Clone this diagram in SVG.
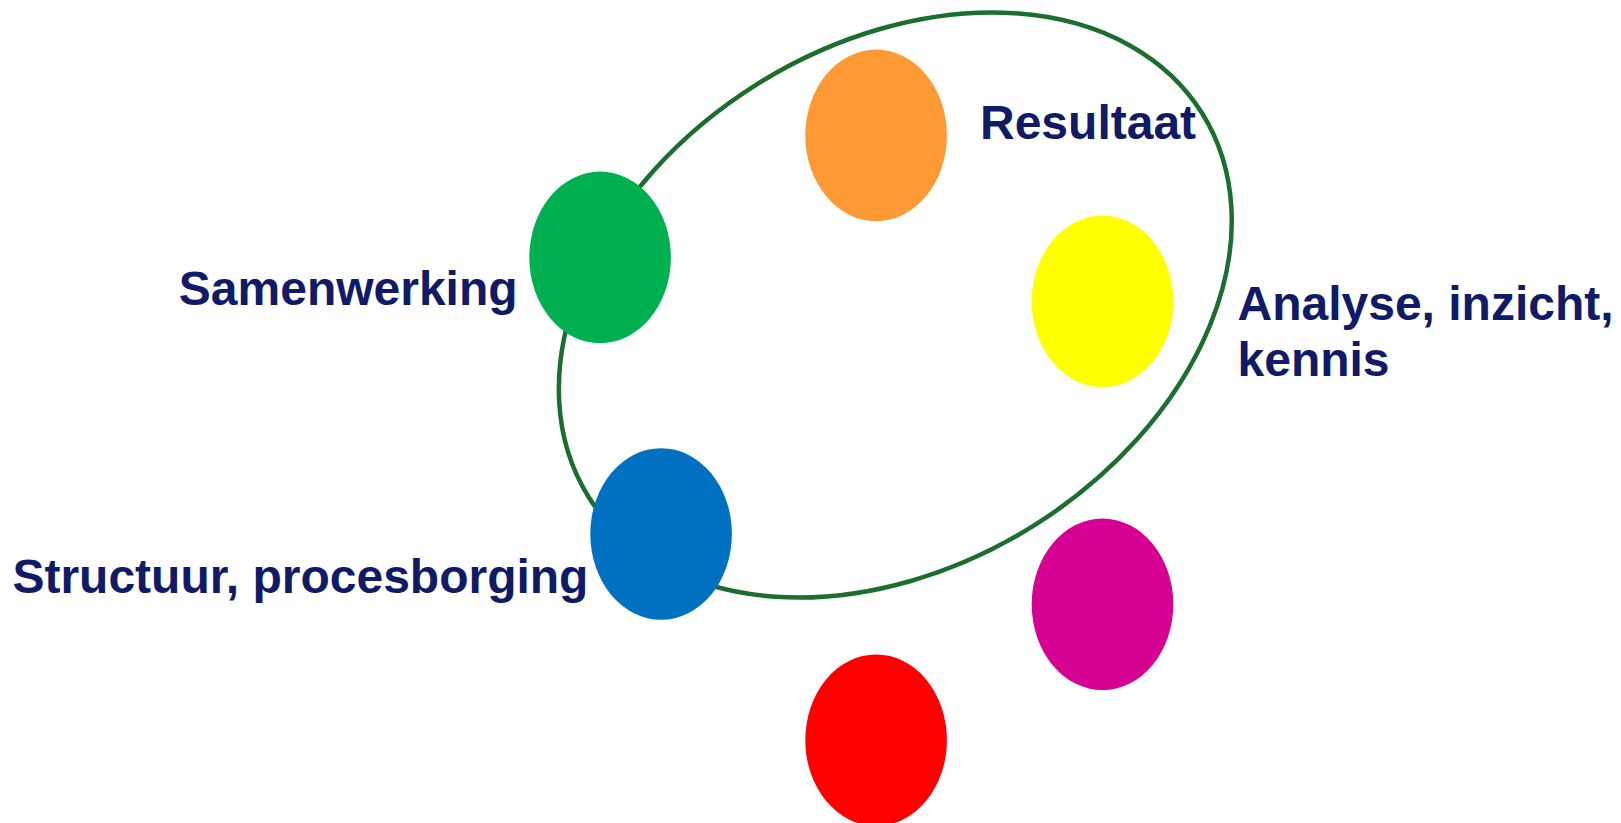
<svg xmlns="http://www.w3.org/2000/svg" width="1621" height="823" viewBox="0 0 1621 823">
<style>
.lbl{font-family:"Liberation Sans",Arial,sans-serif;font-weight:bold;font-size:48px;fill:#111A66}
.dot{stroke:none}
</style>
<rect width="1621" height="823" fill="#ffffff"/>
<g id="connectors">
<ellipse cx="895.3" cy="305" rx="361.8" ry="260.5" transform="rotate(-32 895.3 305)" fill="none" stroke="#1A6E2E" stroke-width="4.5"/>
</g>
<g id="node-resultaat">
<ellipse class="dot" cx="876.1" cy="135.4" rx="70.8" ry="85.8" fill="#FF9933"/>
<text class="lbl" x="980" y="138.5">Resultaat</text>
</g>
<g id="node-samenwerking">
<ellipse class="dot" cx="600.1" cy="257.4" rx="70.8" ry="85.8" fill="#00B050"/>
<text class="lbl" x="178.8" y="305">Samenwerking</text>
</g>
<g id="node-analyse">
<ellipse class="dot" cx="1102.5" cy="301.4" rx="70.8" ry="85.8" fill="#FFFF00"/>
<text class="lbl" x="1237.5" y="319.5">Analyse, inzicht,</text>
<text class="lbl" x="1237.5" y="376.3">kennis</text>
</g>
<g id="node-structuur">
<ellipse class="dot" cx="661.1" cy="534" rx="70.8" ry="85.8" fill="#0070C0"/>
<text class="lbl" x="12.4" y="593.4">Structuur, procesborging</text>
</g>
<g id="node-magenta">
<ellipse class="dot" cx="1102.5" cy="604.3" rx="70.8" ry="85.8" fill="#D60093"/>
</g>
<g id="node-red">
<ellipse class="dot" cx="876.1" cy="740.2" rx="70.8" ry="85.8" fill="#FF0000"/>
</g>
</svg>
